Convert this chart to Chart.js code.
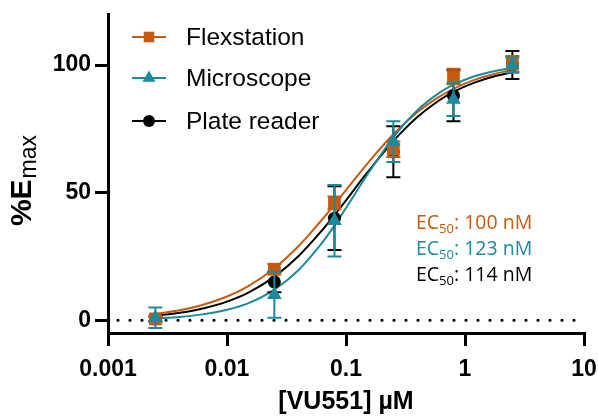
<!DOCTYPE html>
<html><head><meta charset="utf-8">
<script src="https://cdn.jsdelivr.net/npm/chart.js@4.4.1/dist/chart.umd.min.js"></script>
<style>html,body{margin:0;padding:0;background:#fff}#wrap{width:598px;height:417px;position:relative}</style>
</head><body><div id="wrap"><canvas id="c"></canvas></div>
<script>
// ---- data ----
const seriesNames = ['Flexstation', 'Microscope', 'Plate reader'];
const ec50Labels = ['100 nM', '123 nM', '114 nM'];
const doseX = [0.0025, 0.025, 0.08, 0.25, 0.8, 2.5];
const flexMean = [0.5, 20, 46, 67, 95.5, 100.5];
const flexErr = [1, 2, 2.5, 3, 3, 3];
const microMean = [1, 10, 39, 70, 86.5, 100];
const microErr = [4, 9, 14, 8, 6.5, 3];
const plateMean = [0.5, 15, 40, 66, 88, 100];
const plateErr = [1, 4, 12.5, 10, 10, 5.5];
// fitted curves
const curveX = [0.0025, 0.004, 0.006, 0.01, 0.015, 0.025, 0.04, 0.06, 0.08, 0.1, 0.15, 0.25, 0.4, 0.6, 0.8, 1.2, 1.8, 2.5];
const flexCurve = [2.5, 3.9, 5.8, 9.3, 13.3, 20.4, 29.1, 38.3, 45.3, 51, 61.2, 72.9, 81.6, 87.4, 90.7, 94.2, 96.6, 98.1];
const microCurve = [0.7, 1.3, 2.2, 4.1, 6.6, 12.0, 19.7, 29.1, 37.1, 44.0, 56.8, 71.7, 82.4, 88.9, 92.3, 95.6, 97.7, 98.8];
const plateCurve = [1.8, 2.9, 4.4, 7.3, 10.7, 17.1, 25.2, 34.1, 41.2, 47.0, 57.7, 70.2, 79.7, 86.0, 89.5, 93.1, 95.7, 97.2];
const baselineX = [0.001, 10];
const baselineY = [0, 0];
const xTickValues = [0.001, 0.01, 0.1, 1, 10];
const xTickLabels = ['0.001', '0.01', '0.1', '1', '10'];
const yTickValues = [0, 50, 100];
const yTickLabels = ['0', '50', '100'];
const xTitle = '[VU551] µM';

// ---- styles ----
const ORANGE = '#C55A11';
const TEAL = '#1B8A9C';
const BLACK = '#000000';
const colors = [ORANGE, TEAL, BLACK];
const styles = ['rect', 'triangle', 'circle'];
const radii = [9, 8.5, 6.5];
const legendRadii = [7.5, 7.5, 6];

const pts = (xs, ys) => xs.map((x, i) => ({x, y: ys[i]}));
const means = [flexMean, microMean, plateMean];
const errs = [flexErr, microErr, plateErr];
const curves = [flexCurve, microCurve, plateCurve];

const datasets = [];
for (let k = 0; k < 3; k++) {
  datasets.push({
    label: seriesNames[k],
    data: pts(doseX, means[k]),
    errors: errs[k],
    showLine: false,
    pointStyle: styles[k],
    pointRadius: radii[k],
    pointBackgroundColor: colors[k],
    pointBorderColor: colors[k],
    pointBorderWidth: 0,
    borderColor: colors[k],
    backgroundColor: colors[k],
    order: [2, 1, 3][k],
    clip: false
  });
}
for (let k = 0; k < 3; k++) {
  datasets.push({
    label: seriesNames[k] + ' fit',
    data: pts(curveX, curves[k]),
    showLine: true,
    pointRadius: 0,
    borderColor: colors[k],
    borderWidth: 2,
    cubicInterpolationMode: 'monotone',
    fill: false,
    order: [6, 5, 7][k]
  });
}
datasets.push({
  label: 'baseline',
  data: pts(baselineX, baselineY),
  showLine: true,
  pointRadius: 0,
  borderColor: BLACK,
  borderWidth: 3.2,
  borderDash: [0, 12],
  borderDashOffset: 2,
  borderCapStyle: 'round',
  order: 10
});

const errPlugin = {
  id: 'errbars',
  beforeDatasetDraw(chart, args) {
    const ds = chart.data.datasets[args.index];
    if (!ds.errors) return;
    const ctx = chart.ctx, xs = chart.scales.x, ys = chart.scales.y;
    ctx.save();
    ctx.strokeStyle = ds.borderColor;
    ctx.lineWidth = 2;
    ds.data.forEach((p, i) => {
      const e = ds.errors[i];
      const px = xs.getPixelForValue(p.x);
      const t = ys.getPixelForValue(p.y + e);
      const b = ys.getPixelForValue(p.y - e);
      ctx.beginPath();
      ctx.moveTo(px, t); ctx.lineTo(px, b);
      ctx.moveTo(px - 7, t); ctx.lineTo(px + 7, t);
      ctx.moveTo(px - 7, b); ctx.lineTo(px + 7, b);
      ctx.stroke();
    });
    ctx.restore();
  }
};

const textPlugin = {
  id: 'texts',
  afterDraw(chart) {
    const ctx = chart.ctx;
    ctx.save();
    // legend
    const rows = [37, 78, 121];
    for (let k = 0; k < 3; k++) {
      const y = rows[k];
      ctx.strokeStyle = colors[k];
      ctx.lineWidth = 2;
      ctx.beginPath(); ctx.moveTo(132, y); ctx.lineTo(166, y); ctx.stroke();
      ctx.fillStyle = colors[k];
      Chart.helpers.drawPoint(ctx, {pointStyle: styles[k], radius: legendRadii[k], borderWidth: 0}, 149, y);
      ctx.fillStyle = '#000';
      ctx.font = '24.5px "Liberation Sans", Arial, sans-serif';
      ctx.textBaseline = 'middle';
      ctx.textAlign = 'left';
      ctx.fillText(seriesNames[k], 186, y + 1);
    }
    // EC50 annotations
    const ecRows = [229, 255, 281];
    for (let k = 0; k < 3; k++) {
      let x = 416;
      const y = ecRows[k];
      ctx.fillStyle = colors[k];
      ctx.textBaseline = 'alphabetic';
      ctx.font = '19.5px "Open Sans", sans-serif';
      ctx.fillText('EC', x, y); x += ctx.measureText('EC').width;
      ctx.font = '13px "Open Sans", sans-serif';
      ctx.fillText('50', x, y + 4); x += ctx.measureText('50').width;
      ctx.font = '19.5px "Open Sans", sans-serif';
      ctx.fillText(': ' + ec50Labels[k], x, y);
    }
    // y title
    ctx.translate(31, 181);
    ctx.rotate(-Math.PI / 2);
    ctx.fillStyle = '#000';
    const f1 = 'bold 30px "Liberation Sans", Arial, sans-serif';
    const f2 = '23px "Liberation Sans", Arial, sans-serif';
    ctx.font = f1; const w1 = ctx.measureText('%E').width;
    ctx.font = f2; const w2 = ctx.measureText('max').width;
    let sx = -(w1 + w2) / 2;
    ctx.textBaseline = 'alphabetic';
    ctx.font = f1; ctx.fillText('%E', sx, 0);
    ctx.font = f2; ctx.fillText('max', sx + w1 + 1, 5);
    ctx.restore();
  }
};

new Chart(document.getElementById('c'), {
  type: 'scatter',
  data: {datasets},
  plugins: [errPlugin, textPlugin],
  options: {
    responsive: true,
    maintainAspectRatio: false,
    animation: false,
    devicePixelRatio: 1,
    layout: {padding: {top: 14, right: 14, left: 0, bottom: 0}},
    plugins: {legend: {display: false}, tooltip: {enabled: false}},
    scales: {
      x: {
        type: 'logarithmic',
        min: 0.001, max: 10,
        afterFit: s => { s.height = 84; s.paddingLeft = 0; s.paddingRight = 0; },
        afterBuildTicks: s => { s.ticks = xTickValues.map(v => ({value: v})); },
        border: {display: true, color: '#000', width: 3},
        grid: {display: true, drawOnChartArea: false, drawTicks: true, tickLength: 13, color: '#000', lineWidth: 3},
        ticks: {
          autoSkip: false, maxRotation: 0, padding: 10, color: '#000',
          font: {family: '"Liberation Sans", Arial, sans-serif', size: 23, weight: 'bold'},
          callback: v => xTickLabels[xTickValues.indexOf(v)]
        },
        title: {display: true, text: xTitle, color: '#000', padding: {top: 0, bottom: 0},
          font: {family: '"Liberation Sans", Arial, sans-serif', size: 25, weight: 'bold'}}
      },
      y: {
        min: -5, max: 120,
        afterFit: s => { s.width = 108; s.paddingTop = 0; s.paddingBottom = 0; },
        afterBuildTicks: s => { s.ticks = yTickValues.map(v => ({value: v})); },
        border: {display: true, color: '#000', width: 3},
        grid: {display: true, drawOnChartArea: false, drawTicks: true, tickLength: 13, color: '#000', lineWidth: 3},
        ticks: {
          padding: 4, color: '#000',
          font: {family: '"Liberation Sans", Arial, sans-serif', size: 23, weight: 'bold'},
          callback: v => yTickLabels[yTickValues.indexOf(v)]
        }
      }
    }
  }
});
</script></body></html>
